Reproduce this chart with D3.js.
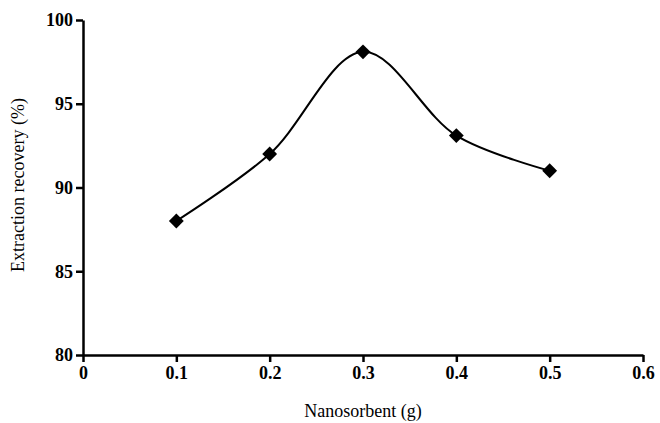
<!DOCTYPE html>
<html><head><meta charset="utf-8">
<script src="https://cdn.jsdelivr.net/npm/d3@7"></script>
<style>body{margin:0;background:#fff}svg{display:block}</style>
</head><body><svg id="c" width="660" height="423"></svg>
<script>
const xValues = [0.1, 0.2, 0.3, 0.4, 0.5];
const recovery = [88, 92, 98.1, 93.1, 91];
const xTicks = [0, 0.1, 0.2, 0.3, 0.4, 0.5, 0.6];
const yTicks = [80, 85, 90, 95, 100];
const xTitle = "Nanosorbent (g)";
const yTitle = "Extraction recovery (%)";

const svg = d3.select("#c");
const x = d3.scaleLinear().domain([0, 0.6]).range([83, 643]);
const y = d3.scaleLinear().domain([80, 100]).range([355, 20]);
const font = "'Liberation Serif', 'Times New Roman', serif";

const xa = svg.append("g").attr("transform", "translate(0,355)")
  .call(d3.axisBottom(x).tickValues(xTicks).tickFormat(d => d === 0 ? "0" : d3.format(".1f")(d)).tickSize(7).tickSizeOuter(0).tickPadding(4));
const ya = svg.append("g").attr("transform", "translate(83,0)")
  .call(d3.axisLeft(y).tickValues(yTicks).tickSize(7).tickSizeOuter(0).tickPadding(3));
[xa, ya].forEach(a => {
  a.select(".domain").attr("stroke", "#000").attr("stroke-width", 2.5);
  a.selectAll(".tick line").attr("stroke", "#000").attr("stroke-width", 2.5);
  a.selectAll(".tick text").attr("fill", "#000").style("font-family", font).style("font-size", "18px").style("font-weight", "bold");
});

const data = xValues.map((v, i) => ({x: v, y: recovery[i]}));
svg.append("path").datum(data)
  .attr("fill", "none").attr("stroke", "#000").attr("stroke-width", 2)
  .attr("d", d3.line().x(d => x(d.x)).y(d => y(d.y)).curve(d3.curveCatmullRom.alpha(0.5)));

svg.selectAll(".pt").data(data).enter().append("path")
  .attr("class", "pt")
  .attr("transform", d => `translate(${x(d.x)},${y(d.y)}) rotate(45)`)
  .attr("d", d3.symbol().type(d3.symbolSquare).size(110)())
  .attr("fill", "#000");

svg.append("text").attr("x", 363).attr("y", 417).attr("text-anchor", "middle")
  .style("font-family", font).style("font-size", "18px").text(xTitle);
svg.append("text").attr("transform", "translate(24,185) rotate(-90)").attr("text-anchor", "middle")
  .style("font-family", font).style("font-size", "18px").text(yTitle);
</script></body></html>
